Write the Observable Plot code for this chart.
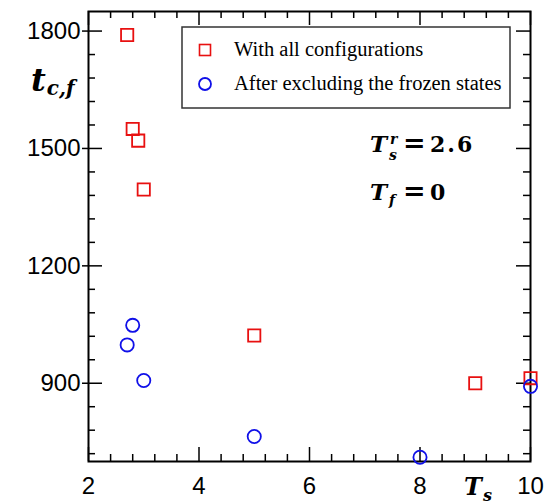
<!DOCTYPE html>
<html>
<head>
<meta charset="utf-8">
<script src="https://cdn.jsdelivr.net/npm/d3@7"></script>
<script src="https://cdn.jsdelivr.net/npm/@observablehq/plot@0.6"></script>
<style>
  html, body { margin: 0; padding: 0; background: white; }
  #chart svg { display: block; }
</style>
</head>
<body>
<div id="chart"></div>
<script>
// ---- data ----
const tsAll  = [2.7, 2.8, 2.9, 3.0, 5.0, 9.0, 10.0];
const tcAll  = [1790, 1550, 1520, 1395, 1022, 900, 913];
const tsExcl = [2.7, 2.8, 3.0, 5.0, 8.0, 10.0];
const tcExcl = [998, 1048, 907, 764, 711, 892];
const xMajor = [2, 4, 6, 8, 10];
const xMinor = [2.4, 2.8, 3.2, 3.6, 4.4, 4.8, 5.2, 5.6, 6.4, 6.8, 7.2, 7.6, 8.4, 8.8, 9.2, 9.6];
const yMajor = [900, 1200, 1500, 1800];
const yMinor = [720, 780, 840, 960, 1020, 1080, 1140, 1260, 1320, 1380, 1440, 1560, 1620, 1680, 1740];
const legendLabels = ["With all configurations", "After excluding the frozen states"];

const allData = tsAll.map((x, i) => ({x, y: tcAll[i]}));
const exclData = tsExcl.map((x, i) => ({x, y: tcExcl[i]}));

const W = 560, H = 504, mL = 88, mR = 30, mT = 11, mB = 43;
const iw = W - mL - mR, ih = H - mT - mB;
const tickCol = "black", tickW = 1.5;

const svg = Plot.plot({
  width: W, height: H,
  marginLeft: mL, marginRight: mR, marginTop: mT, marginBottom: mB,
  style: {fontFamily: "'Liberation Sans', Arial, sans-serif", background: "white", color: "black"},
  x: {domain: [2, 10]},
  y: {domain: [700, 1850]},
  marks: [
    Plot.tickX(xMajor, {x: d => d, insetTop: ih - 14, stroke: tickCol, strokeWidth: tickW}),
    Plot.tickX(xMajor, {x: d => d, insetBottom: ih - 14, stroke: tickCol, strokeWidth: tickW}),
    Plot.tickX(xMinor, {x: d => d, insetTop: ih - 7, stroke: tickCol, strokeWidth: tickW}),
    Plot.tickX(xMinor, {x: d => d, insetBottom: ih - 7, stroke: tickCol, strokeWidth: tickW}),
    Plot.tickY(yMajor, {y: d => d, insetLeft: -6, insetRight: iw - 14, stroke: tickCol, strokeWidth: tickW}),
    Plot.tickY(yMajor, {y: d => d, insetLeft: iw - 14, stroke: tickCol, strokeWidth: tickW}),
    Plot.tickY(yMinor, {y: d => d, insetRight: iw - 7, stroke: tickCol, strokeWidth: tickW}),
    Plot.tickY(yMinor, {y: d => d, insetLeft: iw - 7, stroke: tickCol, strokeWidth: tickW}),
    Plot.frame({stroke: "black", strokeWidth: 2}),
    Plot.axisX({ticks: xMajor, tickSize: 0, tickPadding: 15, fontSize: 24, label: null, tickFormat: d => String(d)}),
    Plot.axisY({ticks: yMajor, tickSize: 0, tickPadding: 8, fontSize: 24, label: null, tickFormat: d => String(d)}),
    Plot.dot(allData, {x: "x", y: "y", symbol: "square", r: 6.9, stroke: "#e81010", strokeWidth: 1.8, fill: "none"}),
    Plot.dot(exclData, {x: "x", y: "y", symbol: "circle", r: 6.6, stroke: "#1010e8", strokeWidth: 1.8, fill: "none"})
  ]
});

document.getElementById("chart").appendChild(svg);

const s = d3.select(svg);
// Legend
const lg = s.append("g").attr("text-anchor", "start");
lg.append("rect").attr("x", 182).attr("y", 27).attr("width", 328).attr("height", 81)
  .attr("fill", "white").attr("stroke", "#333").attr("stroke-width", 1.5);
lg.append("rect").attr("x", 199.5).attr("y", 44.5).attr("width", 11).attr("height", 11)
  .attr("fill", "none").attr("stroke", "#e81010").attr("stroke-width", 1.6);
lg.append("circle").attr("cx", 205).attr("cy", 84).attr("r", 6)
  .attr("fill", "none").attr("stroke", "#1010e8").attr("stroke-width", 1.8);
legendLabels.forEach((t, i) => {
  lg.append("text").attr("x", 234).attr("y", 56 + i * 34).attr("text-anchor", "start")
    .attr("font-family", "'Liberation Serif', 'Times New Roman', serif")
    .attr("font-size", 20.5).attr("fill", "black").text(t);
});

const mathFont = "'DejaVu Serif', serif";
// y label t_{c,f}
const yl = s.append("text").attr("x", 31).attr("y", 91).attr("text-anchor", "start")
  .attr("font-family", mathFont).attr("font-weight", "bold").attr("font-style", "italic").attr("fill", "black");
yl.append("tspan").attr("font-size", 32).text("t");
yl.append("tspan").attr("font-size", 20).attr("dy", 4).attr("dx", 1).text("c,f");

// x label T_s
const xl = s.append("text").attr("y", 495).attr("text-anchor", "start")
  .attr("font-family", mathFont).attr("font-weight", "bold").attr("font-style", "italic").attr("fill", "black");
xl.append("tspan").attr("x", 464).attr("font-size", 24).text("T");
xl.append("tspan").attr("x", 483).attr("font-size", 16).attr("dy", 6).text("s");

// annotation T_s^r = 2.6
const a1 = s.append("text").attr("y", 152).attr("text-anchor", "start")
  .attr("font-family", mathFont).attr("font-weight", "bold").attr("fill", "black");
a1.append("tspan").attr("x", 370).attr("font-size", 23).attr("font-style", "italic").text("T");
a1.append("tspan").attr("x", 390).attr("font-size", 14).attr("font-style", "italic").attr("dy", -8).text("r");
a1.append("tspan").attr("x", 389).attr("font-size", 14).attr("font-style", "italic").attr("dy", 16).text("s");
a1.append("tspan").attr("x", 403).attr("font-size", 27).attr("dy", -8).text("=");
a1.append("tspan").attr("x", 430).attr("font-size", 22).attr("letter-spacing", 2).text("2.6");

// annotation T_f = 0
const a2 = s.append("text").attr("y", 200).attr("text-anchor", "start")
  .attr("font-family", mathFont).attr("font-weight", "bold").attr("fill", "black");
a2.append("tspan").attr("x", 370).attr("font-size", 23).attr("font-style", "italic").text("T");
a2.append("tspan").attr("x", 389).attr("font-size", 14).attr("font-style", "italic").attr("dy", 5).text("f");
a2.append("tspan").attr("x", 403).attr("font-size", 27).attr("dy", -5).text("=");
a2.append("tspan").attr("x", 430).attr("font-size", 22).text("0");
</script>
</body>
</html>
